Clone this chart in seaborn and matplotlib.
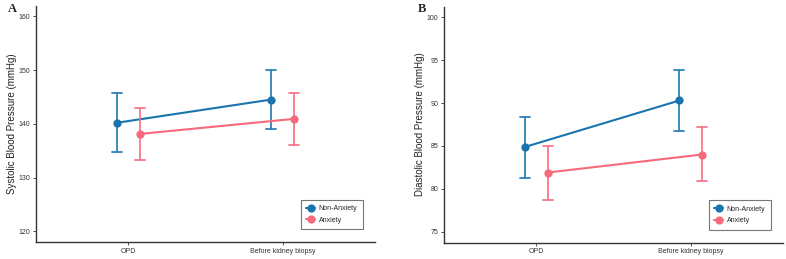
import numpy as np
import pandas as pd
import seaborn as sns
import matplotlib
matplotlib.use("Agg")
import matplotlib.pyplot as plt

timepoints = ["OPD", "Before kidney biopsy"]
groups = ["Non-Anxiety", "Anxiety"]

# Systolic: mean, lower, upper per group at each timepoint
sbp_mean_non = [140.2, 144.5]
sbp_low_non = [134.8, 139.0]
sbp_high_non = [145.7, 150.0]
sbp_mean_anx = [138.1, 140.9]
sbp_low_anx = [133.3, 136.1]
sbp_high_anx = [142.9, 145.7]

# Diastolic
dbp_mean_non = [84.9, 90.3]
dbp_low_non = [81.3, 86.7]
dbp_high_non = [88.4, 93.9]
dbp_mean_anx = [81.9, 84.0]
dbp_low_anx = [78.7, 80.9]
dbp_high_anx = [85.0, 87.2]

colors = {"Non-Anxiety": "#1a75ae", "Anxiety": "#f8697c"}


def build(mn, lo, hi, ma, la, ha):
    rows = []
    for g, (m, l, h) in zip(groups, [(mn, lo, hi), (ma, la, ha)]):
        for i, t in enumerate(timepoints):
            for v in (l[i], m[i], h[i]):
                rows.append({"time": t, "group": g, "value": v})
    return pd.DataFrame(rows)


df_s = build(sbp_mean_non, sbp_low_non, sbp_high_non, sbp_mean_anx, sbp_low_anx, sbp_high_anx)
df_d = build(dbp_mean_non, dbp_low_non, dbp_high_non, dbp_mean_anx, dbp_low_anx, dbp_high_anx)

sns.set_theme(style="ticks")
plt.rcParams["font.family"] = ["Liberation Sans", "DejaVu Sans"]

fig = plt.figure(figsize=(7.86, 2.59), dpi=100)
axA = fig.add_axes([36 / 786, 1 - 242 / 259, 339 / 786, (242 - 5.5) / 259])
axB = fig.add_axes([444 / 786, 1 - 242.5 / 259, 339 / 786, (242.5 - 6.5) / 259])

specs = [
    (axA, df_s, "Systolic Blood Pressure (mmHg)", (118, 162), [120, 130, 140, 150, 160], "A"),
    (axB, df_d, "Diastolic Blood Pressure (mmHg)", (73.75, 101.25), [75, 80, 85, 90, 95, 100], "B"),
]

for ax, df, ylabel, ylim, yticks, letter in specs:
    sns.pointplot(
        data=df, x="time", y="value", hue="group", order=timepoints, hue_order=groups,
        palette=colors, estimator=np.median, errorbar=lambda v: (np.min(v), np.max(v)),
        dodge=0.144, capsize=0.065, markersize=4.8, linewidth=1.5, err_kws={"linewidth": 1.3, "alpha": 0.9},
        ax=ax,
    )
    ax.set_xlim(-0.6, 1.6)
    ax.set_ylim(*ylim)
    ax.set_yticks(yticks)
    ax.set_xlabel("")
    ax.set_ylabel(ylabel, fontsize=7, color="#222222", labelpad=1.5)
    ax.tick_params(axis="both", labelsize=5, length=2, width=0.6, pad=2, colors="#333333")
    for s in ("top", "right"):
        ax.spines[s].set_visible(False)
    for s in ("left", "bottom"):
        ax.spines[s].set_linewidth(1.0)
        ax.spines[s].set_color("#333333")
    leg = ax.legend(loc="lower right", bbox_to_anchor=(0.975, 0.04), fontsize=5, frameon=True,
                    fancybox=False, edgecolor="#555555", handlelength=1.2, borderpad=0.8,
                    labelspacing=0.6, handletextpad=0.6, title=None)
    leg.get_frame().set_linewidth(0.8)

fig.text(8 / 786, 1 - 8.5 / 259, "A", fontsize=9, fontweight="bold", family="Liberation Serif", va="center", ha="left")
fig.text(418 / 786, 1 - 9.5 / 259, "B", fontsize=9, fontweight="bold", family="Liberation Serif", va="center", ha="left")

fig.savefig("out.png", dpi=100)
